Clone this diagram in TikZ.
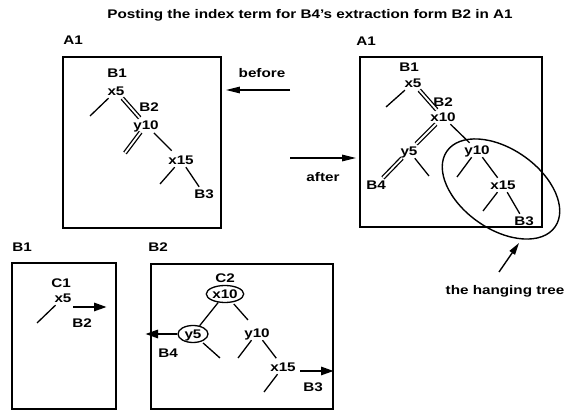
\documentclass[tikz,border=0pt]{standalone}
\usepackage{fontspec}
\setmainfont{Liberation Sans}[FakeStretch=1.22]
\usetikzlibrary{arrows.meta,shapes.geometric}
\tikzset{
  every node/.style={font=\bfseries\fontsize{12.5}{14}\selectfont, inner sep=2.5pt, text height=9pt, text depth=0pt},
  box/.style={draw, line width=1.8pt, inner sep=0pt},
  ln/.style={line width=1.3pt},
  dbl/.style={double, line width=1.3pt, double distance=1.8pt},
  arr/.style={line width=1.4pt, -{Triangle[length=14pt,width=6.5pt]}},
  tarr/.style={line width=2.8pt, -{Triangle[length=13pt,width=8pt]}},
  oval/.style={draw, ellipse, line width=1.3pt, inner sep=0.5pt, minimum width=30pt, minimum height=17pt}
}
\begin{document}
\begin{tikzpicture}[x=1pt,y=-1pt]
\useasboundingbox (0,0) rectangle (566,411);
% title
\node (title) at (310,14) {Posting the index term for B4’s extraction form B2 in A1};

% ---------- A1 before ----------
\node (la1) at (73,40) {A1};
\node[box, minimum width=158pt, minimum height=171pt] (boxA) at (142,142.5) {};
\node (before) at (262,73) {before};
\coordinate (bt) at (290,90);
\draw[arr, shorten >=4pt] (bt) -- (bt -| boxA.east);

\node (aB1) at (117,73) {B1};
\node (ax5) at (116,91) {x5};
\node (aB2) at (149,107) {B2};
\node (ay10) at (146,125) {y10};
\node (ax15) at (181,160) {x15};
\node (aB3) at (204,194) {B3};
\coordinate (as1) at (90,116);
\coordinate (as2) at (125,153);
\coordinate (as3) at (160,184);
\draw[ln] (ax5) -- (as1);
\draw[dbl] (ax5) -- (ay10);
\draw[dbl] (ay10) -- (as2);
\draw[ln, shorten <=1pt, shorten >=3pt] (ay10) -- (ax15);
\draw[ln] (ax15) -- (as3);
\draw[ln] (ax15) -- (aB3);

% ---------- A1 after ----------
\node (la2) at (366,41) {A1};
\node[box, minimum width=182pt, minimum height=170pt] (boxA2) at (451,142) {};
\node (after) at (323,177) {after};
\coordinate (at) at (290,158);
\draw[arr, shorten >=3pt] (at) -- (at -| boxA2.west);

\node (bB1) at (409,67) {B1};
\node (bx5) at (413,83) {x5};
\node (bB2) at (443,102) {B2};
\node (bx10) at (443,117) {x10};
\node (by5) at (409,151) {y5};
\node (bB4) at (376,185) {B4};
\node (by10) at (477,150) {y10};
\node (bx15) at (503,185) {x15};
\node (bB3) at (524,221) {B3};
\coordinate (bs1) at (386,107);
\coordinate (bs2) at (429,176);
\coordinate (bs3) at (457,177);
\coordinate (bs4) at (483,211);
\draw[ln] (bx5) -- (bs1);
\draw[dbl] (bx5) -- (bx10);
\draw[dbl] (bx10) -- (by5);
\draw[dbl] (by5) -- (bB4);
\draw[ln] (by5) -- (bs2);
\draw[ln] (bx10) -- (by10);
\draw[ln] (by10) -- (bs3);
\draw[ln] (by10) -- (bx15);
\draw[ln] (bx15) -- (bs4);
\draw[ln] (bx15) -- (bB3);
\node[draw, ellipse, line width=1.4pt, minimum width=132pt, minimum height=80pt, rotate=-35, inner sep=0pt] (hang) at (501,189) {};
\node (htext) at (505,290) {the hanging tree};
\coordinate (ht1) at (499,272);
\coordinate (ht2) at (519,243);
\draw[line width=1.4pt, -{Triangle[length=12pt,width=6.5pt]}] (ht1) -- (ht2);

% ---------- B1 box ----------
\node (lb1) at (22,247) {B1};
\node[box, minimum width=104pt, minimum height=146pt] (boxB1) at (64,336) {};
\node (cC1) at (61,283) {C1};
\node (cx5) at (63,298) {x5};
\node (cB2) at (82,323) {B2};
\coordinate (cs1) at (37,323);
\coordinate (ca1) at (73,307);
\coordinate (ca2) at (107,307);
\draw[ln] (cx5) -- (cs1);
\draw[tarr] (ca1) -- (ca2);

% ---------- B2 box ----------
\node (lb2) at (158,247) {B2};
\node[box, minimum width=182pt, minimum height=145pt] (boxB2) at (242,336.5) {};
\node (dC2) at (225,278) {C2};
\node[oval] (dx10) at (225,294) {x10};
\node[oval] (dy5) at (193,334) {y5};
\node (dB4) at (168,353) {B4};
\node (dy10) at (257,333) {y10};
\node (dx15) at (283,367) {x15};
\node (dB3) at (313,387) {B3};
\coordinate (ds1) at (248,320);
\coordinate (ds2) at (220,358);
\coordinate (ds3) at (238,358);
\coordinate (ds4) at (264,392);
\coordinate (dal) at (145,334);
\coordinate (da1) at (300,371);
\coordinate (da2) at (334,371);
\draw[ln] (dx10) -- (dy5);
\draw[ln, shorten <=2pt] (dx10) -- (ds1);
\draw[ln, shorten <=2pt] (dy5) -- (ds2);
\draw[ln] (dy10) -- (ds3);
\draw[ln, shorten >=2pt] (dy10) -- (dx15);
\draw[ln] (dx15) -- (ds4);
\draw[tarr] (dy5) -- (dal);
\draw[tarr] (da1) -- (da2);
\end{tikzpicture}
\end{document}
